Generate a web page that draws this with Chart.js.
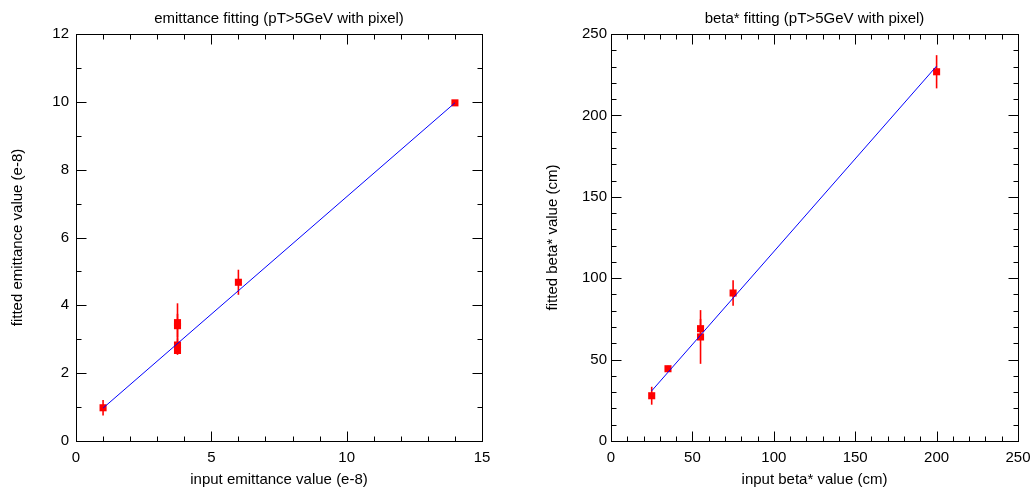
<!DOCTYPE html>
<html>
<head>
<meta charset="utf-8">
<title>emittance / beta* fitting</title>
<script src="https://cdn.jsdelivr.net/npm/chart.js@4.4.1/dist/chart.umd.min.js"></script>
<style>
  html, body { margin: 0; padding: 0; background: #fff; }
  #wrap { position: relative; width: 1034px; height: 489px; }
  #emitChart { position: absolute; left: 0; top: 0; }
  #betaChart { position: absolute; left: 517px; top: 0; }
</style>
</head>
<body>
<div id="wrap">
  <canvas id="emitChart" width="517" height="489"></canvas>
  <canvas id="betaChart" width="517" height="489"></canvas>
</div>
<script>
// emittance: input vs fitted (units of e-8)
const emitInput  = [1, 3.75, 3.75, 3.75, 3.75, 6, 14];
const emitFitted = [0.98, 3.49, 3.40, 2.83, 2.67, 4.68, 9.97];
const emitErr    = [0.23, 0.57, 0.35, 0.20, 0.13, 0.37, 0.05];
const emitLineX  = [1, 14];
const emitLineY  = [0.97, 9.97];

// beta*: input vs fitted (cm)
const betaInput  = [25, 35, 55, 55, 75, 200];
const betaFitted = [27.8, 44.4, 69.0, 63.9, 90.9, 226.8];
const betaErr    = [5.5, 1.8, 6.0, 16.5, 7.8, 10.2];
const betaLineX  = [25, 200];
const betaLineY  = [30.8, 230.3];

Chart.defaults.font.family = '"Liberation Sans", Arial, Helvetica, sans-serif';
Chart.defaults.color = '#000';

function toPoints(xs, ys) {
  return xs.map((x, i) => ({ x: x, y: ys[i] }));
}

// vertical error bars, drawn under the markers
const errorBars = {
  id: 'errorBars',
  beforeDatasetsDraw(chart) {
    const { ctx, scales: { x, y } } = chart;
    ctx.save();
    ctx.strokeStyle = '#ff0000';
    ctx.lineWidth = 1.6;
    chart.data.datasets.forEach(ds => {
      if (!ds.errors) return;
      ds.data.forEach((p, i) => {
        const e = ds.errors[i];
        const px = x.getPixelForValue(p.x);
        ctx.beginPath();
        ctx.moveTo(px, y.getPixelForValue(p.y - e));
        ctx.lineTo(px, y.getPixelForValue(p.y + e));
        ctx.stroke();
      });
    });
    ctx.restore();
  }
};

// box around the plot with inward ticks on all four sides
const frameTicks = {
  id: 'frameTicks',
  afterDraw(chart, args, opts) {
    const { ctx, chartArea: a, scales: { x, y } } = chart;
    ctx.save();
    ctx.strokeStyle = '#000';
    ctx.lineWidth = 1;
    const L = Math.round(a.left) + 0.5, R = Math.round(a.right) + 0.5;
    const T = Math.round(a.top) + 0.5, B = Math.round(a.bottom) + 0.5;
    ctx.strokeRect(L, T, R - L, B - T);
    ctx.beginPath();
    for (let v = x.min; v <= x.max + 1e-9; v += opts.xMinor) {
      const major = Math.abs(v / opts.xMajor - Math.round(v / opts.xMajor)) < 1e-6;
      const len = major ? 10 : 5;
      const px = Math.round(x.getPixelForValue(v)) + 0.5;
      ctx.moveTo(px, B); ctx.lineTo(px, B - len);
      ctx.moveTo(px, T); ctx.lineTo(px, T + len);
    }
    for (let v = y.min; v <= y.max + 1e-9; v += opts.yMinor) {
      const major = Math.abs(v / opts.yMajor - Math.round(v / opts.yMajor)) < 1e-6;
      const len = major ? 10 : 5;
      const py = Math.round(y.getPixelForValue(v)) + 0.5;
      ctx.moveTo(L, py); ctx.lineTo(L + len, py);
      ctx.moveTo(R, py); ctx.lineTo(R - len, py);
    }
    ctx.stroke();
    ctx.restore();
  }
};

function makeChart(canvasId, cfg) {
  return new Chart(document.getElementById(canvasId), {
    type: 'scatter',
    data: {
      datasets: [
        {
          type: 'line',
          data: toPoints(cfg.lineX, cfg.lineY),
          borderColor: '#0000ff',
          borderWidth: 1,
          pointRadius: 0,
          fill: false,
          order: 0
        },
        {
          data: toPoints(cfg.xs, cfg.ys),
          errors: cfg.errs,
          pointStyle: 'rect',
          pointRadius: 5,
          pointBorderWidth: 0,
          backgroundColor: '#ff0000',
          borderColor: '#ff0000',
          order: 1
        }
      ]
    },
    options: {
      responsive: false,
      animation: false,
      events: [],
      layout: { padding: { left: 0, right: cfg.padRight, top: 0, bottom: 0 } },
      plugins: {
        legend: { display: false },
        tooltip: { enabled: false },
        title: {
          display: true,
          fullSize: false, // centre over the plot area
          text: cfg.title,
          color: '#000',
          font: { size: 15, weight: 'normal' },
          padding: { top: 10, bottom: 6 }
        },
        frameTicks: { xMinor: cfg.xMinor, xMajor: cfg.xStep, yMinor: cfg.yMinor, yMajor: cfg.yStep }
      },
      scales: {
        x: {
          type: 'linear',
          min: cfg.xMin, max: cfg.xMax,
          grid: { display: false, drawTicks: false },
          border: { display: false },
          ticks: { stepSize: cfg.xStep, maxRotation: 0, padding: 8, font: { size: 15 }, color: '#000' },
          title: { display: true, text: cfg.xTitle, font: { size: 15 }, color: '#000', padding: { top: 0, bottom: 0 } },
          afterFit(scale) {
            scale.height = 48;
            // let the end labels hang over the padding instead of shrinking the plot
            scale.paddingLeft = 0;
            scale.paddingRight = 0;
          }
        },
        y: {
          type: 'linear',
          min: cfg.yMin, max: cfg.yMax,
          grid: { display: false, drawTicks: false },
          border: { display: false },
          ticks: { stepSize: cfg.yStep, padding: cfg.yTickPad, font: { size: 15 }, color: '#000' },
          title: { display: true, text: cfg.yTitle, font: { size: 15 }, color: '#000', padding: { top: cfg.yTitlePad, bottom: 0 } },
          afterFit(scale) { scale.width = cfg.yWidth; }
        }
      }
    },
    plugins: [errorBars, frameTicks]
  });
}

makeChart('emitChart', {
  title: 'emittance fitting (pT>5GeV with pixel)',
  xTitle: 'input emittance value (e-8)',
  yTitle: 'fitted emittance value (e-8)',
  xs: emitInput, ys: emitFitted, errs: emitErr,
  lineX: emitLineX, lineY: emitLineY,
  xMin: 0, xMax: 15, xStep: 5, xMinor: 1,
  yMin: 0, yMax: 12, yStep: 2, yMinor: 1,
  yWidth: 76, padRight: 35, yTitlePad: 9, yTickPad: 7
});

makeChart('betaChart', {
  title: 'beta* fitting (pT>5GeV with pixel)',
  xTitle: 'input beta* value (cm)',
  yTitle: 'fitted beta* value (cm)',
  xs: betaInput, ys: betaFitted, errs: betaErr,
  lineX: betaLineX, lineY: betaLineY,
  xMin: 0, xMax: 250, xStep: 50, xMinor: 10,
  yMin: 0, yMax: 250, yStep: 50, yMinor: 10,
  yWidth: 94, padRight: 16, yTitlePad: 27, yTickPad: 4
});
</script>
</body>
</html>
